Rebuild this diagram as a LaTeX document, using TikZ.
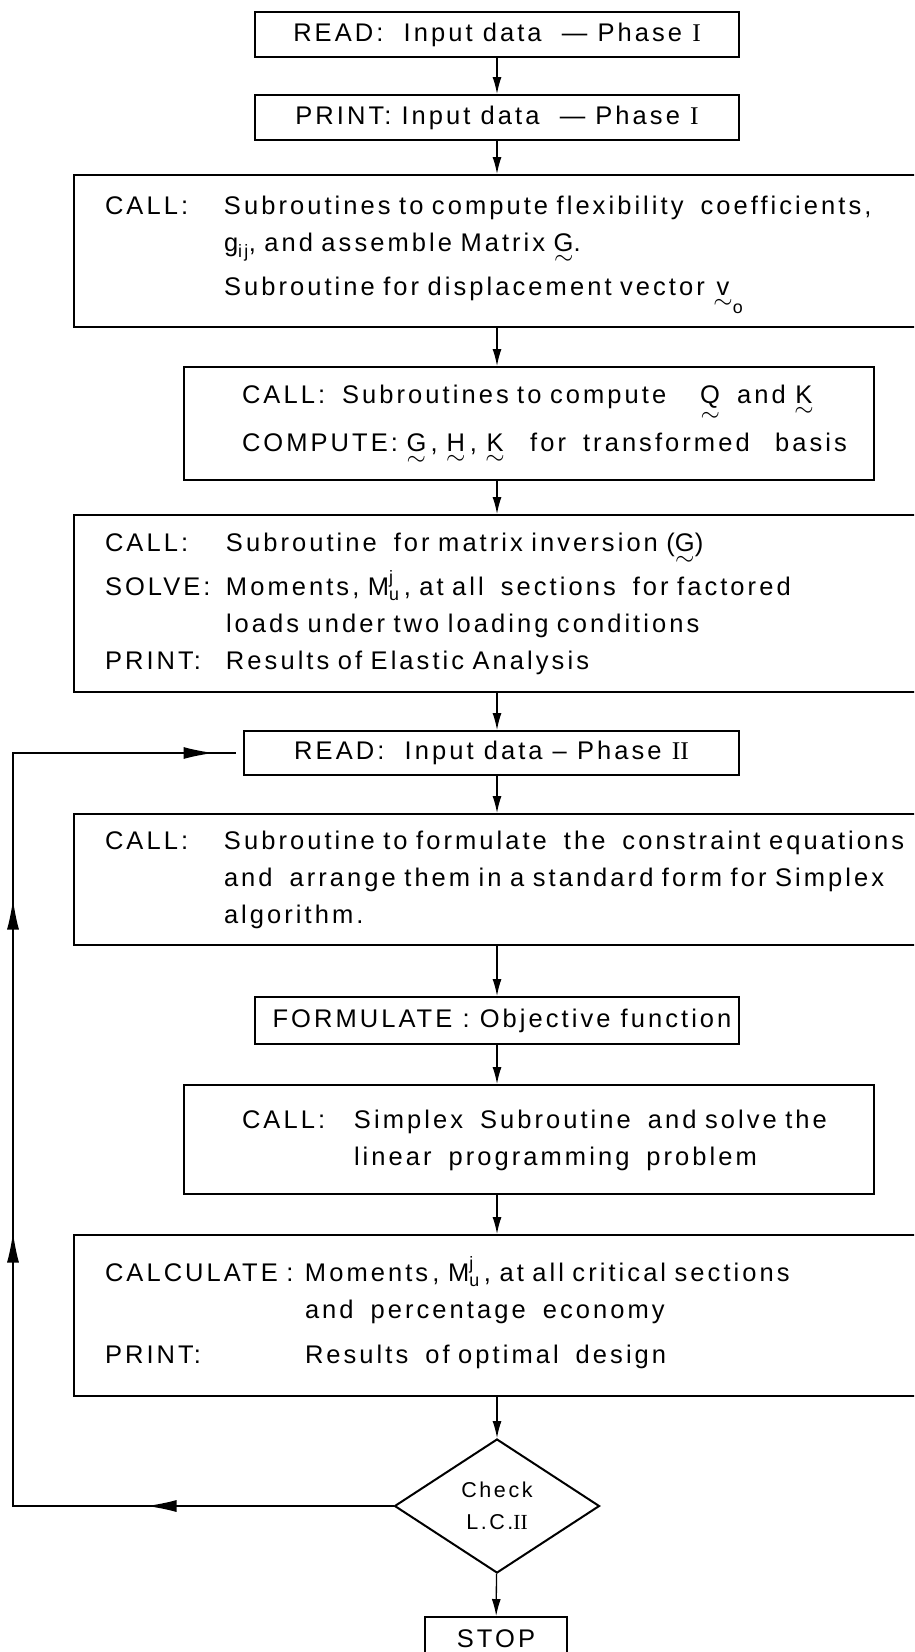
\documentclass[tikz,border=0pt]{standalone}
\usepackage{amsmath}
\usepackage{fontspec}
\setmainfont{Liberation Sans}[LetterSpace=12]
\newfontfamily\numfont{Liberation Serif}
\usetikzlibrary{shapes.geometric,arrows.meta,decorations.markings}

\newcommand{\lett}{\fontsize{25.5}{37}\selectfont}
\newcommand{\tl}{\raisebox{2pt}[0pt][0pt]{$\textstyle\sim$}}
\newcommand{\ut}[1]{\ensuremath{\underset{\tl}{\text{#1}}}}
\newcommand{\rn}[1]{{\numfont #1}}

\begin{document}
\begin{tikzpicture}[
  x=1pt, y=-1pt,
  box/.style={draw, line width=2pt, inner sep=0pt, font=\lett},
  narrow/.style={box, minimum width=484pt, minimum height=#1},
  wide/.style={box, text width=784pt, inner xsep=31pt, align=left, minimum height=#1},
  mid/.style={box, text width=574pt, inner xsep=58pt, align=left, minimum height=#1},
  diam/.style={draw, diamond, line width=2pt, inner sep=0pt, align=center,
               minimum width=205pt, minimum height=134pt, font=\fontsize{21.5}{32}\selectfont},
  arr/.style={-{Latex[length=17pt,width=9pt]}, line width=1.3pt},
  loopline/.style={line width=1.3pt}
]
  \useasboundingbox (0,0) rectangle (914,1652);
  \clip (0,0) rectangle (914,1652);

  \node[narrow=45pt] (read1) at (497,34.5) {READ:\ \ Input data \ — Phase \rn{I}};
  \node[narrow=45pt] (print1) at (497,117.5) {PRINT: Input data \ — Phase \rn{I}};
  \node[wide=152pt] (flex) at (497,251) {%
    \begin{tabular}{@{}p{119pt}@{}l@{}}
    CALL: & Subroutines to compute flexibility \ coefficients,\\
          & $\text{g}_{\text{ij}}$, and assemble Matrix \ut{G}.\\
          & Subroutine for displacement vector $\underset{\tl}{\text{v}}_{\text{o}}$
    \end{tabular}};
  \node[mid=113pt] (qk) at (529,423.5) {%
    \begin{tabular}{@{}l@{}}
    CALL:\ \ Subroutines to compute \ \ \ \ut{Q} \ and \ut{K}\\[3pt]
    COMPUTE: \ut{G}\,, \ut{H}\,, \ut{K} \ \ for \ transformed \ \ basis
    \end{tabular}};
  \node[wide=177pt] (inv) at (497,603.5) {%
    \begin{tabular}{@{}p{121pt}@{}l@{}}
    CALL:  & Subroutine \ for matrix inversion (\ut{G})\\
    SOLVE: & Moments, $\text{M}^{\text{j}}_{\text{u}}$\,, at all \ sections \ for factored\\
           & loads under two loading conditions\\
    PRINT: & Results of Elastic Analysis
    \end{tabular}};
  \node[box, minimum width=495pt, minimum height=44pt] (read2) at (491.5,753) {READ:\ \ Input data -- Phase \rn{II}};
  \node[wide=131pt] (cons) at (497,879.5) {%
    \begin{tabular}{@{}p{119pt}@{}l@{}}
    CALL: & Subroutine to formulate \ the \ constraint equations\\
          & and \ arrange them in a standard form for Simplex\\
          & algorithm.
    \end{tabular}};
  \node[narrow=47pt] (obj) at (497,1020.5) {\hspace*{10pt}FORMULATE : Objective function};
  \node[mid=109pt] (simplex) at (529,1139.5) {%
    \begin{tabular}{@{}p{112pt}@{}l@{}}
    CALL: & Simplex \ Subroutine \ and solve the\\
          & linear \ programming \ problem
    \end{tabular}};
  \node[wide=161pt] (calc) at (497,1315.5) {%
    \begin{tabular}{@{}p{200pt}@{}l@{}}
    CALCULATE : & Moments\,, $\text{M}^{\text{j}}_{\text{u}}$\,, at all critical sections\\
                & and \ percentage \ economy\\[8pt]
    PRINT:      & Results \ of optimal \ design
    \end{tabular}};
  \node[diam] (check) at (497,1506) {Check\\L.C.\rn{II}};
  \node[box, minimum width=142pt, minimum height=43pt] (stop) at (496,1638.5) {STOP};

  % main chain
  \draw[arr] (read1) -- (print1);
  \draw[arr] (print1) -- (flex);
  \draw[arr] (flex.south) -- (flex.south |- qk.north);
  \draw[arr] (qk.south -| inv.north) -- (inv.north);
  \draw[arr] (inv.south) -- (inv.south |- read2.north);
  \draw[arr] (read2.south -| cons.north) -- (cons.north);
  \draw[arr] (cons) -- (obj);
  \draw[arr] (obj.south) -- (obj.south |- simplex.north);
  \draw[arr] (simplex.south -| calc.north) -- (calc.north);
  \draw[arr] (calc) -- (check);
  \draw[arr] (check) -- (stop);

  % return loop for load case II
  \coordinate (lpbot) at (13,1506);
  \coordinate (lptop) at (13,753);
  \draw[loopline, postaction=decorate, decoration={markings,
      mark=at position 247pt with {\arrow{Latex[length=30pt,width=12pt]}},
      mark=at position 654pt with {\arrow{Latex[length=30pt,width=12pt]}},
      mark=at position 987pt with {\arrow{Latex[length=30pt,width=12pt]}},
      mark=at position 1334pt with {\arrow{Latex[length=30pt,width=12pt]}}}]
    (check.west) -- (lpbot) -- (lptop) -- ([xshift=-7pt]read2.west);
\end{tikzpicture}
\end{document}
